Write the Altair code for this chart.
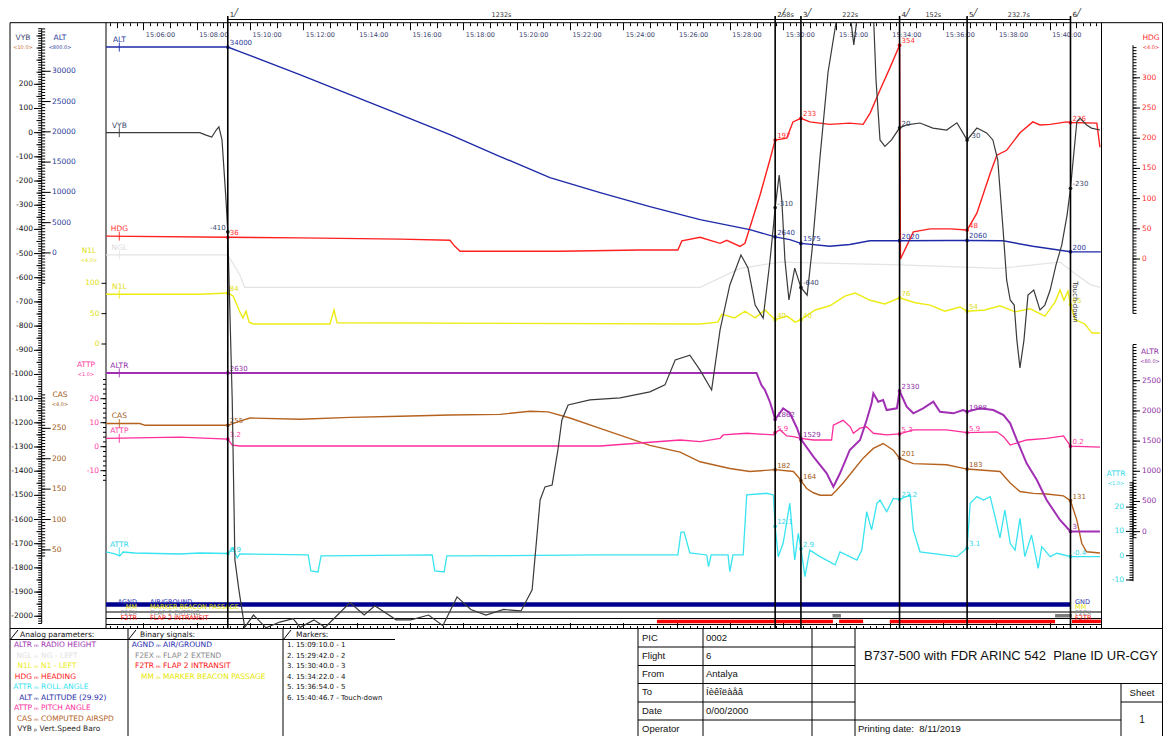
import altair as alt
import pandas as pd

# ============================ DATA ============================
# times are seconds after 15:00:00
MARKER_T = [550.0, 1782.0, 1840.0, 2062.0, 2214.0, 2446.7]
MARKER_NAME = ["1", "2", "3", "4", "5", "6"]
MARKER_TEXT = ["1. 15:09:10.0 - 1", "2. 15:29:42.0 - 2", "3. 15:30:40.0 - 3",
               "4. 15:34:22.0 - 4", "5. 15:36:54.0 - 5", "6. 15:40:46.7 - Touch-down"]

ALT_T = [276, 550, 577, 712, 825, 938, 1050, 1163, 1275, 1388, 1500, 1613, 1725, 1782, 1815,
         1840, 1905, 1950, 1995, 2062, 2175, 2214, 2295, 2362, 2446.7, 2515]
ALT_V = [34000, 34000, 33250, 29460, 26160, 22850, 19550, 15920, 12440, 9960, 7640, 5500, 3850,
         2640, 2200, 1575, 1100, 1400, 2000, 2020, 2040, 2060, 2000, 1100, 200, 180]

VYB_T = [276, 487, 501, 514, 524, 530, 537, 546, 550, 560, 566, 575, 588, 608, 636, 667, 697, 713,
         744, 769, 793, 825, 857, 881, 929, 962, 1002, 1034, 1066, 1097, 1131, 1171, 1210, 1235,
         1241, 1253, 1264, 1280, 1293, 1302, 1316, 1365, 1433, 1500, 1534, 1557, 1590, 1613, 1639,
         1658, 1680, 1705, 1721, 1737, 1755, 1770, 1779, 1782, 1791, 1797, 1804, 1813, 1826, 1840,
         1854, 1865, 1883, 1901, 1919, 1930, 1953, 1959, 1965, 1975, 2004, 2009, 2018, 2029, 2044,
         2062, 2078, 2108, 2137, 2168, 2191, 2214, 2236, 2258, 2272, 2283, 2295, 2303, 2311, 2320,
         2326, 2333, 2342, 2351, 2364, 2378, 2389, 2401, 2414, 2427, 2439, 2446.7, 2461, 2468,
         2483, 2494, 2513]
VYB_V = [0, 0, -10, -18, 11, 24, -30, -279, -410, -1106, -1767, -1891, -2046, -1995, -2048, -2024,
         -2010, -2046, -2015, -2046, -2002, -1943, -1995, -1957, -2015, -2015, -1995, -2039, -1920,
         -1972, -1995, -1972, -1978, -1891, -1767, -1519, -1465, -1457, -1312, -1188, -1126, -1105,
         -1097, -1072, -1043, -940, -920, -982, -1064, -816, -630, -506, -560, -713, -767, -535,
         -370, -310, -175, -279, -527, -692, -560, -640, -672, -486, -100, 250, 455, None, 455, 363,
         455, None, 455, 218, -30, -57, -30, 20, 32, 40, 19, 11, 41, -30, 19, -1, -30, -113, -402,
         -609, -692, -713, -858, -973, -858, -672, -651, -733, -713, -651, -548, -465, -341, -230,
         45, 60, 32, 19, 11]

HDG_T = [276, 550, 712, 938, 1050, 1061, 1073, 1298, 1478, 1563, 1572, 1613, 1658, 1673, 1703, 1714,
         1748, 1770, 1782, 1808, 1822, 1840, 1860, 1905, 1950, 1980, 1996, 2018, 2040, 2062, 2064,
         2093, 2131, 2175, 2214, 2236, 2266, 2281, 2303, 2333, 2362, 2378, 2401, 2438, 2446.7,
         2506, 2513]
HDG_V = [38, 36, 35, 33, 31, 21, 13, 13, 15, 15, 30, 36, 26, 31, 21, 26, 106, 164, 197, 200, 227,
         233, 227, 223, 225, 223, 242, 280, 316, 354, 0, 45, 50, 50, 48, 76, 142, 172, 180, 209,
         227, 222, 223, 227, 226, 225, 185]

NGL_T = [276, 550, 577, 588, 1613, 1703, 1793, 2063, 2288, 2423, 2446.7, 2491, 2513]
NGL_V = [99, 99, 77, 63, 63, 84, 91, 88, 84, 91, 82, 66, 63]

N1L_T = [276, 487, 550, 562, 571, 577, 584, 591, 598, 607, 780, 789, 796, 1613, 1653, 1662, 1691,
         1714, 1737, 1759, 1782, 1809, 1827, 1840, 1872, 1905, 1939, 1962, 1996, 2029, 2062, 2097,
         2131, 2164, 2198, 2214, 2254, 2288, 2322, 2356, 2389, 2412, 2423, 2432, 2441, 2446.7,
         2457, 2479, 2495, 2513]
N1L_V = [82, 82, 84, 79, 64, 53, 43, 54, 36, 33, 33, 56, 35, 33, 36, 49, 43, 54, 43, 56, 40, 46, 36,
         40, 56, 63, 79, 84, 72, 66, 76, 68, 64, 54, 61, 54, 56, 63, 53, 58, 46, 69, 89, 72, 87, 65,
         40, 33, 18, 18]

ALTR_T = [276, 550, 1740, 1751, 1759, 1770, 1777, 1782, 1800, 1815, 1831, 1840, 1868, 1898, 1913,
          1928, 1950, 1973, 1988, 1999, 2003, 2014, 2025, 2033, 2056, 2062, 2078, 2093, 2115, 2138,
          2153, 2183, 2205, 2214, 2243, 2273, 2296, 2311, 2326, 2348, 2371, 2393, 2423, 2446.7, 2513]
ALTR_V = [2630, 2630, 2630, 2429, 2346, 2152, 1990, 1862, 2043, 1965, 1717, 1529, 1242, 967, 745,
          967, 1353, 1518, 1849, 2126, 2291, 2152, 2180, 2015, 2043, 2330, 2070, 1960, 2043, 2152,
          1987, 1960, 2015, 1988, 2043, 2015, 1932, 1795, 1518, 1132, 856, 525, 194, 3, 3]

CAS_T = [276, 352, 364, 550, 577, 600, 712, 825, 938, 1050, 1163, 1230, 1271, 1320, 1388, 1500, 1568,
         1613, 1680, 1725, 1782, 1823, 1834, 1840, 1853, 1868, 1883, 1909, 1920, 1935, 1958, 1980,
         2003, 2025, 2048, 2062, 2093, 2168, 2214, 2288, 2311, 2333, 2363, 2393, 2431, 2446.7, 2461,
         2472, 2483, 2513]
CAS_V = [258, 258, 255, 255, 262, 267, 265, 268, 270, 272, 273, 278, 277, 267, 250, 222, 211, 195,
         184, 179, 182, 179, 170, 164, 151, 144, 140, 140, 148, 160, 181, 201, 217, 225, 214, 201,
         192, 190, 183, 179, 160, 146, 143, 142, 139, 131, 99, 61, 47, 45]

ATTP_T = [276, 442, 550, 560, 577, 938, 1388, 1568, 1613, 1658, 1665, 1718, 1778, 1782, 1793, 1808,
          1823, 1840, 1868, 1909, 1913, 1935, 1951, 1958, 1973, 1988, 2003, 2033, 2062, 2093, 2168,
          2214, 2281, 2296, 2311, 2348, 2393, 2431, 2446.7, 2513]
ATTP_V = [3.5, 4.0, 3.2, 0.7, 0.3, 0.3, 0.3, 2.8, 2.1, 3.5, 4.9, 5.6, 4.9, 5.9, 7.0, 4.5, 4.2, 3.5,
          2.8, 2.8, 9.0, 11.0, 8.3, 5.6, 7.7, 8.3, 5.6, 4.9, 5.3, 7.0, 7.0, 5.9, 6.2, 4.2, 0.7, 2.8,
          3.5, 4.5, 0.2, -0.2]

ATTR_T = [276, 296, 307, 314, 341, 442, 487, 550, 562, 571, 577, 731, 737, 753, 760, 1010, 1016,
          1037, 1043, 1388, 1563, 1570, 1577, 1590, 1628, 1632, 1638, 1676, 1680, 1687, 1710, 1718,
          1763, 1778, 1782, 1789, 1800, 1815, 1826, 1834, 1840, 1849, 1860, 1883, 1917, 1928, 1966,
          1977, 1988, 1999, 2011, 2018, 2033, 2048, 2062, 2086, 2093, 2108, 2191, 2214, 2221, 2236,
          2251, 2266, 2277, 2288, 2299, 2311, 2322, 2333, 2344, 2359, 2374, 2382, 2401, 2416,
          2446.7, 2513]
ATTR_V = [1.6, 0.7, -0.1, 1.5, 1.1, 0.7, 1.1, 0.9, 3.2, -0.9, 0.7, 0.3, -6.3, -6.7, -0.1, 0.3, -6.3,
          -6.7, -0.1, 0.3, 0.3, 9.7, 9.7, 1.1, 0.3, -4.5, 0.3, 0.3, -6.6, 0.3, 0.3, 25.0, 25.7,
          25.0, 12.1, -0.4, 5.1, 21.6, -1.8, 9.2, 2.9, -8.6, 2.3, -0.4, -3.8, 1.6, -1.8, 2.3, 18.1,
          10.6, 21.6, 22.9, 18.1, 23.6, 23.2, 25.0, 10.6, 1.6, -0.4, 3.1, 21.6, 24.3, 22.9, 24.3,
          16.0, 7.3, 18.8, 5.1, 2.3, 15.4, -0.4, 8.5, -5.2, 3.7, -0.4, 1.0, -0.4, -0.4]

# binary signals: "on" intervals (seconds)
AGND_ON = [[276, 2446.7]]
F2EX_ON = [[1911, 1930], [2412, 2450]]
F2TR_ON = [[1516, 1912], [1926, 1980], [2040, 2412], [2450, 2515]]

# axis tick labels
VYB_TICKS = list(range(-2000, 201, 100))
ALT_TICKS = list(range(0, 30001, 5000))
CAS_TICKS = list(range(50, 251, 50))
N1L_TICKS = [0, 50, 100]
ATTP_TICKS = [-10, 0, 10, 20]
HDG_TICKS = list(range(0, 301, 50))
ALTR_TICKS = list(range(0, 2501, 500))
ATTR_TICKS = [-10, 0, 10, 20]
TIME_TICKS = list(range(360, 2401, 120))

ANALOG_CODE = ["ALTR", "NGL", "N1L", "HDG", "ATTR", "ALT", "ATTP", "CAS", "VYB"]
ANALOG_DESC = ["\u2098 RADIO HEIGHT", "\u2098 NG - LEFT", "\u2098 N1 - LEFT", "\u2098 HEADING",
               "\u2098 ROLL ANGLE", "\u2098 ALTITUDE (29.92)", "\u2098 PITCH ANGLE",
               "\u2098 COMPUTED AIRSPD", "\u209a Vert.Speed Baro"]
BINARY_CODE = ["AGND", "F2EX", "F2TR", "MM"]
BINARY_DESC = ["\u2098 AIR/GROUND", "\u2098 FLAP 2 EXTEND", "\u2098 FLAP 2 INTRANSIT",
               "\u2098 MARKER BEACON PASSAGE"]
BINARY_ROW_NAME = ["AGND", "MM", "F2EX", "F2TR"]
BINARY_ROW_DESC = ["AIR/GROUND", "MARKER BEACON PASSAGE", "FLAP 2 EXTEND", "FLAP 2 INTRANSIT"]
BINARY_END = ["GND", "MM", "F2EX", "F2TR"]

INFO_LABEL = ["PIC", "Flight", "From", "To", "Date", "Operator"]
INFO_VALUE = ["0002", "6", "Antalya", "\u00cd\u00e8\u00ea\u00ee\u00eb\u00e0\u00e5\u00e2",
              "\u00a00/00/2000", ""]
TITLE = "B737-500 with FDR ARINC 542\u00a0\u00a0Plane ID UR-CGY"
PRINT_DATE = "Printing date:\u00a0\u00a08/11/2019"

# ============================ LAYOUT / STYLE ============================
OX = OY = 8
W, H = 1155, 728
FONT = "DejaVu Sans"
RIGHT_EDGE = 1162.5  # last visible column of the page


def cx(x):
    return x - OX


def cy(y):
    return y - OY


T0, T1 = 275.9, 2516.5
XS = alt.Scale(domain=[T0, T1], range=[cx(106.0), cx(1101.5)], nice=False, zero=False)

SCALE_PIX = {
    "VYB": ([-2030, 430], [623.5, 28.7]),
    "ALT": ([-5000, 37000], [283.2, 28.9]),
    "CAS": ([40, 305], [556.0, 394.9]),
    "N1L": ([0, 100], [344.0, 283.3]),
    "NGL": ([0, 100], [344.0, 254.0]),
    "ATTP": ([-14, 28], [480.3, 379.5]),
    "HDG": ([-90, 354], [313.4, 45.2]),
    "ALTR": ([-100, 3100], [537.7, 344.5]),
    "ATTR": ([-10.5, 30.5], [581.2, 481.6]),
}

STYLE = {
    "ALT": dict(color="#1f2aa8", lab="#2a3a9a", width=1.4, dec=0),
    "VYB": dict(color="#3a3a3a", lab="#404a70", width=1.2, dec=0),
    "HDG": dict(color="#ff2020", lab="#ff3030", width=1.4, dec=0),
    "NGL": dict(color="#e4e4e4", lab="#dadada", width=1.2, dec=0),
    "N1L": dict(color="#ecec14", lab="#dede10", width=1.4, dec=0),
    "ALTR": dict(color="#a12fb3", lab="#9030a8", width=2.0, dec=0),
    "CAS": dict(color="#b5621f", lab="#a05a20", width=1.4, dec=0),
    "ATTP": dict(color="#ff2d9b", lab="#ff3aa0", width=1.3, dec=1),
    "ATTR": dict(color="#38e4ef", lab="#30d8e8", width=1.3, dec=1),
}
NAME_T = 306  # where each series name sits
SKIP_LABEL = {("ATTP", 2)}


def ys(name):
    dom, pix = SCALE_PIX[name]
    return alt.Scale(domain=dom, range=[cy(pix[0]), cy(pix[1])], nice=False, zero=False)


def fmt(v, dec):
    return f"{v:.{dec}f}" if dec else f"{int(round(v))}"


def series_group(name, T, V, left_labels=()):
    assert len(T) == len(V), name
    st = STYLE[name]
    sc = ys(name)
    rows, seg = [], 0
    for t, v in zip(T, V):
        if v is None:
            seg += 1
            continue
        rows.append({"t": t, "v": v, "seg": seg})
    df = pd.DataFrame(rows)

    def X():
        return alt.X("t:Q", scale=XS, axis=None)

    def Y():
        return alt.Y("v:Q", scale=sc, axis=None)

    parts = [alt.Chart(df).mark_line(color=st["color"], strokeWidth=st["width"]).encode(
        x=X(), y=Y(), detail="seg:N")]
    if name != "NGL":
        dots, pts_r, pts_l = [], [], []
        for k, m in enumerate(MARKER_T):
            for t, v in zip(T, V):
                if v is not None and abs(t - m) < 1e-6:
                    dots.append({"t": t, "v": v})
                    if (name, k) in SKIP_LABEL:
                        continue
                    (pts_l if k in left_labels else pts_r).append(
                        {"t": t, "v": v, "s": fmt(v, st["dec"])})
        parts.append(alt.Chart(pd.DataFrame(dots)).mark_circle(
            size=14, color=st["color"], opacity=1).encode(x=X(), y=Y()))
        parts.append(alt.Chart(pd.DataFrame(pts_r)).mark_text(
            align="left", baseline="bottom", dx=2, dy=-1, font=FONT, fontSize=7,
            color=st["lab"]).encode(x=X(), y=Y(), text="s:N"))
        if pts_l:
            parts.append(alt.Chart(pd.DataFrame(pts_l)).mark_text(
                align="right", baseline="bottom", dx=-2, dy=-1, font=FONT, fontSize=7,
                color=st["lab"]).encode(x=X(), y=Y(), text="s:N"))
    v0 = [v for v in V if v is not None][0]
    ndf = pd.DataFrame({"t": [NAME_T], "v": [v0], "s": [name]})
    parts.append(alt.Chart(ndf).mark_text(align="center", baseline="bottom", dy=-3, font=FONT,
                                          fontSize=7.5, color=st["lab"]).encode(
        x=X(), y=Y(), text="s:N"))
    parts.append(alt.Chart(ndf).mark_tick(orient="vertical", size=9, thickness=1.3,
                                          color=st["color"]).encode(x=X(), y=Y()))
    return alt.layer(*parts)


# ---- hand-built value axes (ticks / spine / labels drawn through each series scale) ----
def ticks(name, values, x0, x1):
    df = pd.DataFrame({"v": list(values)})
    return alt.Chart(df).mark_rule(color="black", strokeWidth=1).encode(
        x=alt.value(cx(x0)), x2=alt.value(cx(x1)), y=alt.Y("v:Q", scale=ys(name), axis=None))


def spine(name, xpix):
    lo, hi = SCALE_PIX[name][0]
    df = pd.DataFrame({"a": [lo], "b": [hi]})
    return alt.Chart(df).mark_rule(color="black", strokeWidth=1).encode(
        x=alt.value(cx(xpix)), y=alt.Y("a:Q", scale=ys(name), axis=None), y2="b:Q")


def tick_labels(name, values, xpix, align, color):
    df = pd.DataFrame({"v": list(values), "s": [str(v) for v in values]})
    return alt.Chart(df).mark_text(align=align, baseline="middle", font=FONT, fontSize=7.5,
                                   color=color).encode(
        x=alt.value(cx(xpix)), y=alt.Y("v:Q", scale=ys(name), axis=None), text="s:N")


def xaxis(orient, ypix, values, size, labels=False):
    off = cy(ypix) - H if orient == "bottom" else -cy(ypix)
    kw = dict(orient=orient, offset=off, values=list(values), tickSize=size, tickColor="black",
              tickWidth=1, grid=False, title=None, domain=False, labels=labels)
    if labels:
        kw.update(labelExpr="'15:' + (floor(datum.value/60) < 10 ? '0' : '') + floor(datum.value/60) + ':00'",
                  labelFont=FONT, labelFontSize=6.5, labelColor="#3c4470", labelAlign="left",
                  labelBaseline="top", labelPadding=2, labelOffset=2, labelOverlap=False,
                  labelFlush=False)
    return alt.Axis(**kw)


def xdummy(xax):
    return alt.Chart(pd.DataFrame({"t": [T0]})).mark_point(opacity=0).encode(
        x=alt.X("t:Q", scale=XS, axis=xax), y=alt.value(0))


def text_layer(rows, **mk):
    df = pd.DataFrame(rows, columns=["x", "y", "s", "c"])
    df["x"] = df["x"].map(cx)
    df["y"] = df["y"].map(cy)
    return alt.Chart(df).mark_text(font=FONT, **mk).encode(
        x=alt.X("x:Q", scale=None, axis=None), y=alt.Y("y:Q", scale=None, axis=None),
        text="s:N", color=alt.Color("c:N", scale=None))


def list_layer(texts, colors, xpix, rscale, align="left", size=7.5, font=FONT):
    df = pd.DataFrame({"i": list(range(len(texts))), "s": texts, "c": colors})
    return alt.Chart(df).mark_text(align=align, baseline="middle", font=font, fontSize=size).encode(
        x=alt.value(cx(xpix)), y=alt.Y("i:Q", scale=rscale, axis=None), text="s:N",
        color=alt.Color("c:N", scale=None))


layers = []

# ---------------- frame lines (page decoration) ----------------
R = RIGHT_EDGE
FRAME = [
    (10, 22.7, R, 22.7), (10, 22.7, 10, 736), (106, 22.7, 106, 628.5),
    (1101.5, 22.7, 1101.5, 628.5), (R, 22.7, R, 736), (10, 628.5, R, 628.5),
    (106, 612, 1101.5, 612), (106, 618.5, 1101.5, 618.5), (106, 624.5, 1101.5, 624.5),
    (10, 639.5, 395, 639.5), (128, 628.5, 128, 736), (283, 628.5, 283, 736),
    (10, 640, 18, 630), (128, 640, 136, 630), (283, 640, 291, 630),
    (638, 628.5, 638, 736), (703, 628.5, 703, 736), (812, 628.5, 812, 736), (855, 628.5, 855, 736),
    (638, 647, 855, 647), (638, 665.5, 855, 665.5), (638, 683.5, R, 683.5),
    (638, 702, 855, 702), (1121, 702, R, 702), (638, 720, 1121, 720), (1121, 683.5, 1121, 736),
]
frame_df = pd.DataFrame([{"x": cx(a), "y": cy(b), "x2": cx(c), "y2": cy(d)} for a, b, c, d in FRAME])
layers.append(alt.Chart(frame_df).mark_rule(color="black", strokeWidth=1).encode(
    x=alt.X("x:Q", scale=None, axis=None), y=alt.Y("y:Q", scale=None, axis=None),
    x2="x2:Q", y2="y2:Q"))

# ---------------- value axes: left panel ----------------
layers += [
    spine("VYB", 41.7),
    ticks("VYB", range(-2030, 431, 10), 38.2, 41.7),
    ticks("VYB", range(-2000, 401, 50), 36.5, 41.7),
    ticks("VYB", VYB_TICKS, 34.0, 41.7),
    tick_labels("VYB", VYB_TICKS, 33.0, "right", "#111111"),
    ticks("ALT", range(-5000, 37001, 500), 41.7, 45.2),
    ticks("ALT", ALT_TICKS, 41.7, 50.7),
    tick_labels("ALT", ALT_TICKS, 52.0, "left", STYLE["ALT"]["lab"]),
    ticks("CAS", range(40, 306, 5), 41.7, 45.2),
    ticks("CAS", CAS_TICKS, 41.7, 50.7),
    tick_labels("CAS", CAS_TICKS, 52.0, "left", STYLE["CAS"]["lab"]),
    ticks("N1L", N1L_TICKS, 101.5, 106),
    tick_labels("N1L", N1L_TICKS, 99.5, "right", STYLE["N1L"]["lab"]),
    ticks("ATTP", range(-14, 29, 2), 103, 106),
    ticks("ATTP", ATTP_TICKS, 100.5, 106),
    tick_labels("ATTP", ATTP_TICKS, 99.0, "right", STYLE["ATTP"]["lab"]),
]
# ---------------- value axes: right panel ----------------
layers += [
    spine("HDG", 1133),
    ticks("HDG", range(-90, 355, 5), 1133, 1136.5),
    ticks("HDG", HDG_TICKS, 1133, 1140),
    tick_labels("HDG", HDG_TICKS, 1142, "left", STYLE["HDG"]["lab"]),
    spine("ALTR", 1133),
    ticks("ALTR", range(-100, 3101, 50), 1133, 1136.5),
    ticks("ALTR", ALTR_TICKS, 1133, 1140),
    tick_labels("ALTR", ALTR_TICKS, 1142, "left", STYLE["ALTR"]["lab"]),
    spine("ATTR", 1133),
    ticks("ATTR", range(-10, 31, 1), 1129.5, 1133),
    ticks("ATTR", ATTR_TICKS, 1126, 1133),
    tick_labels("ATTR", ATTR_TICKS, 1124, "right", STYLE["ATTR"]["lab"]),
]

# ---------------- time axes (top labels, bottom ticks) ----------------
layers += [
    xdummy(xaxis("bottom", 22.7, TIME_TICKS, 7, labels=True)),
    xdummy(xaxis("bottom", 22.7, range(300, 2516, 60), 5)),
    xdummy(xaxis("bottom", 22.7, range(285, 2516, 15), 3)),
    xdummy(xaxis("top", 628.5, range(360, 2516, 120), 6)),
    xdummy(xaxis("top", 628.5, range(285, 2516, 15), 3)),
]

# ---------------- binary signal rows ----------------
ROW = alt.Scale(domain=[0, 3], range=[cy(604.5), cy(621.4)], nice=False, zero=False)
for on, row, color, width in [(AGND_ON, 0, "#00008f", 4.5), (F2EX_ON, 2, "#7c7c7c", 3.5),
                              (F2TR_ON, 3, "#ff0000", 3.5)]:
    bdf = pd.DataFrame([{"a": a, "b": b, "r": row} for a, b in on])
    layers.append(alt.Chart(bdf).mark_rule(color=color, strokeWidth=width).encode(
        x=alt.X("a:Q", scale=XS, axis=None), x2="b:Q", y=alt.Y("r:Q", scale=ROW, axis=None)))
BIN_COL = {"AGND": "#2830b0", "GND": "#2830b0", "MM": "#e6e600", "F2EX": "#8a8a8a", "F2TR": "#ff1010"}
rdf = pd.DataFrame({"r": [0, 1, 2, 3], "n": BINARY_ROW_NAME, "d": BINARY_ROW_DESC,
                    "e": BINARY_END, "c": [BIN_COL[n] for n in BINARY_ROW_NAME],
                    "t": [2457] * 4})
layers.append(alt.Chart(rdf).mark_text(align="right", baseline="middle", dy=-3, font=FONT,
                                       fontSize=6.5).encode(
    x=alt.value(cx(137)), y=alt.Y("r:Q", scale=ROW, axis=None), text="n:N",
    color=alt.Color("c:N", scale=None)))
layers.append(alt.Chart(rdf).mark_text(align="left", baseline="middle", dy=-3, font=FONT,
                                       fontSize=6.5).encode(
    x=alt.value(cx(150)), y=alt.Y("r:Q", scale=ROW, axis=None), text="d:N",
    color=alt.Color("c:N", scale=None)))
layers.append(alt.Chart(rdf).mark_text(align="left", baseline="middle", dy=-3, font=FONT,
                                       fontSize=6.5).encode(
    x=alt.X("t:Q", scale=XS, axis=None), y=alt.Y("r:Q", scale=ROW, axis=None), text="e:N",
    color=alt.Color("c:N", scale=None)))

# ---------------- analog series ----------------
layers.append(series_group("NGL", NGL_T, NGL_V))
layers.append(series_group("N1L", N1L_T, N1L_V))
layers.append(series_group("ATTR", ATTR_T, ATTR_V))
layers.append(series_group("CAS", CAS_T, CAS_V))
layers.append(series_group("ATTP", ATTP_T, ATTP_V))
layers.append(series_group("ALTR", ALTR_T, ALTR_V))
layers.append(series_group("HDG", HDG_T, HDG_V))
layers.append(series_group("ALT", ALT_T, ALT_V))
layers.append(series_group("VYB", VYB_T, VYB_V, left_labels={0}))

# ---------------- markers ----------------
mk_df = pd.DataFrame({"t": MARKER_T, "n": MARKER_NAME})
layers.append(alt.Chart(mk_df).mark_rule(color="black", strokeWidth=1.6).encode(
    x=alt.X("t:Q", scale=XS, axis=None), y=alt.value(cy(16)), y2=alt.value(cy(628.5))))
layers.append(alt.Chart(mk_df).mark_text(align="left", baseline="middle", dx=2, font=FONT,
                                         fontSize=7, color="#222").encode(
    x=alt.X("t:Q", scale=XS, axis=None), y=alt.value(cy(15)), text="n:N"))
layers.append(alt.Chart(mk_df).mark_text(align="left", baseline="middle", dx=6, font=FONT,
                                         fontSize=8, color="#222", text="\u2571").encode(
    x=alt.X("t:Q", scale=XS, axis=None), y=alt.value(cy(13))))
iv = pd.DataFrame({"a": MARKER_T[:-1], "b": MARKER_T[1:]})
iv["m"] = (iv["a"] + iv["b"]) / 2
iv["s"] = [f"{round(b - a, 1):g}s" for a, b in zip(iv["a"], iv["b"])]
layers.append(alt.Chart(iv).mark_rule(color="black", strokeWidth=1).encode(
    x=alt.X("a:Q", scale=XS, axis=None), x2="b:Q", y=alt.value(cy(19.5))))
layers.append(alt.Chart(iv).mark_text(baseline="middle", font=FONT, fontSize=6.5, color="#333").encode(
    x=alt.X("m:Q", scale=XS, axis=None), y=alt.value(cy(15)), text="s:N"))
td = pd.DataFrame({"t": [MARKER_T[-1]], "s": ["Touch-down"]})
layers.append(alt.Chart(td).mark_text(angle=90, baseline="middle", dy=-5, font=FONT, fontSize=7,
                                      color="#333").encode(
    x=alt.X("t:Q", scale=XS, axis=None), y=alt.value(cy(302)), text="s:N"))

# ---------------- axis titles in side panels ----------------
TITLES = [("VYB", 23, 38, "<10.0>", "#c87038"), ("ALT", 60, 38, "<800.0>", None),
          ("N1L", 89, 251, "<4.0>", None), ("ATTP", 86, 365, "<1.0>", None),
          ("CAS", 60, 395, "<4.0>", None), ("HDG", 1151, 38, "<4.0>", None),
          ("ALTR", 1150, 352, "<80.0>", None), ("ATTR", 1116, 474, "<1.0>", None)]
TT = [(x, y, nm, "#404a70" if nm == "VYB" else STYLE[nm]["lab"]) for nm, x, y, sub, subc in TITLES]
TT_SUB = [(x, y + 8.5, sub, subc or STYLE[nm]["lab"]) for nm, x, y, sub, subc in TITLES]
layers.append(text_layer(TT, align="center", baseline="middle", fontSize=7.5))
layers.append(text_layer(TT_SUB, align="center", baseline="middle", fontSize=5))

# ---------------- legend block ----------------
LEG = alt.Scale(domain=[0, 8], range=[cy(645), cy(729)], nice=False, zero=False)
layers.append(text_layer([(20, 634.5, "Analog parameters:", "#111"),
                          (140, 634.5, "Binary signals:", "#111"),
                          (296, 634.5, "Markers:", "#111")],
                         align="left", baseline="middle", fontSize=7.5))
acol = [("#e2e2e2" if c == "NGL" else ("#2a2a2a" if c == "VYB" else STYLE[c]["color"]))
        for c in ANALOG_CODE]
layers.append(list_layer(ANALOG_CODE, acol, 32, LEG, align="right"))
layers.append(list_layer(ANALOG_DESC, acol, 34, LEG, align="left"))
bcol = [BIN_COL[c] for c in BINARY_CODE]
layers.append(list_layer(BINARY_CODE, bcol, 154, LEG, align="right"))
layers.append(list_layer(BINARY_DESC, bcol, 156, LEG, align="left"))
layers.append(list_layer(MARKER_TEXT, ["#111"] * len(MARKER_TEXT), 287, LEG, align="left", size=7))

# ---------------- info table ----------------
INFO = alt.Scale(domain=[0, 5], range=[cy(637.5), cy(729)], nice=False, zero=False)
layers.append(list_layer(INFO_LABEL, ["#111"] * 6, 642, INFO, size=9.5, font="Liberation Sans"))
layers.append(list_layer(INFO_VALUE, ["#111"] * 6, 706, INFO, size=9.5, font="Liberation Sans"))
layers.append(alt.Chart(pd.DataFrame({"s": [TITLE]})).mark_text(
    align="center", baseline="middle", font="Liberation Sans", fontSize=13, color="#111").encode(
    x=alt.value(cx(1011)), y=alt.value(cy(656)), text="s:N"))
layers.append(alt.Chart(pd.DataFrame({"s": [PRINT_DATE]})).mark_text(
    align="left", baseline="middle", font="Liberation Sans", fontSize=9.5, color="#111").encode(
    x=alt.value(cx(858)), y=alt.value(cy(729)), text="s:N"))
layers.append(alt.Chart(pd.DataFrame({"s": ["Sheet"]})).mark_text(
    align="center", baseline="middle", font="Liberation Sans", fontSize=9.5, color="#111").encode(
    x=alt.value(cx(1142)), y=alt.value(cy(692.5)), text="s:N"))
layers.append(alt.Chart(pd.DataFrame({"s": ["1"]})).mark_text(
    align="center", baseline="middle", font="Liberation Sans", fontSize=10, color="#111").encode(
    x=alt.value(cx(1142)), y=alt.value(cy(720)), text="s:N"))

chart = alt.layer(*layers).resolve_scale(x="independent", y="independent").properties(
    width=W, height=H, padding=0, autosize=alt.AutoSizeParams(type="none"), background="white"
).configure_view(stroke=None)

chart.save("out.html", embed_options={"renderer": "svg", "actions": False})
